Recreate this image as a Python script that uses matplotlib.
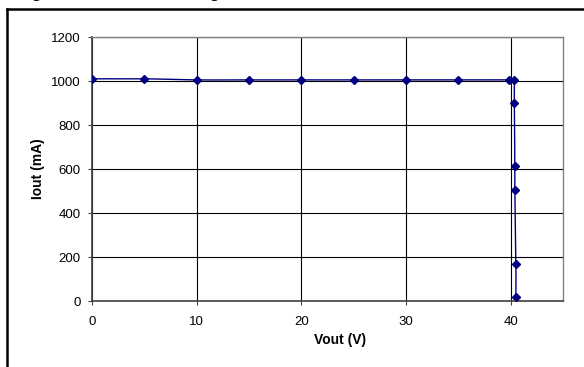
import numpy as np
import matplotlib
matplotlib.use("Agg")
import matplotlib.pyplot as plt
from matplotlib.lines import Line2D

plt.rcParams['font.family'] = ['Liberation Sans', 'DejaVu Sans']

# datos
vout = [0, 5, 10, 15, 20, 25, 30, 35, 39.8, 40.3, 40.35, 40.4, 40.4, 40.5, 40.5]
iout = [1010, 1010, 1005, 1005, 1005, 1005, 1005, 1005, 1005, 1005, 898, 614, 505, 168, 20]

x_ticks = [0, 10, 20, 30, 40]
y_ticks = [0, 200, 400, 600, 800, 1000, 1200]


def suavizar(x, y, n=20):
    # curva tipo Catmull-Rom, parecida a la linea suavizada de Excel
    p = np.column_stack([x, y]).astype(float)
    p = np.vstack([p[0], p, p[-1]])
    sx, sy = [], []
    t = np.linspace(0, 1, n)
    for i in range(1, len(p) - 2):
        p0, p1, p2, p3 = p[i - 1], p[i], p[i + 1], p[i + 2]
        c = 0.5 * (np.outer(2 * np.ones_like(t), p1)
                   + np.outer(t, -p0 + p2)
                   + np.outer(t ** 2, 2 * p0 - 5 * p1 + 4 * p2 - p3)
                   + np.outer(t ** 3, -p0 + 3 * p1 - 3 * p2 + p3))
        sx.extend(c[:, 0])
        sy.extend(c[:, 1])
    return sx, sy


fig = plt.figure(figsize=(5.84, 3.67), dpi=100)
W, H = 584, 367

# marco recortado y titulo cortado arriba (solo se ven las colas de las letras)
fig.add_artist(Line2D([7 / W, 1], [1 - 9 / H, 1 - 9 / H], color='black', lw=1.8))
fig.add_artist(Line2D([7 / W, 7 / W], [1 - 9 / H, 0], color='black', lw=1.8))
fig.text(17 / W, 1 + 2 / H, 'Figure 5. Current Limiting', fontsize=12,
         fontweight='bold', va='baseline', ha='left')

ax = fig.add_axes([92 / W, 1 - 301 / H, 471 / W, 264 / H])
sx, sy = suavizar(vout, iout)
ax.plot(sx, sy, color='#000080', lw=1.0, zorder=3)
ax.plot(vout, iout, ls='none', marker='D', ms=4.5, color='#000080', zorder=4)

ax.set_xlim(0, 45)
ax.set_ylim(0, 1200)
ax.set_xticks(x_ticks)
ax.set_yticks(y_ticks)
ax.grid(True, color='black', lw=0.8)
ax.set_axisbelow(True)
ax.tick_params(labelsize=9.5, length=3, width=0.8, direction='out', color='#404040')
ax.tick_params(axis='x', pad=8)
ax.tick_params(axis='y', pad=5)
for s in ['top', 'right']:
    ax.spines[s].set_color('#808080')
    ax.spines[s].set_linewidth(1.0)
for s in ['left', 'bottom']:
    ax.spines[s].set_color('#404040')
    ax.spines[s].set_linewidth(1.2)

fig.text(340 / W, 1 - 340 / H, 'Vout (V)', fontsize=10, fontweight='bold',
         ha='center', va='center')
fig.text(38 / W, 1 - 169 / H, 'Iout (mA)', fontsize=10, fontweight='bold',
         ha='center', va='center', rotation=90)

fig.savefig('out.png', dpi=100)
